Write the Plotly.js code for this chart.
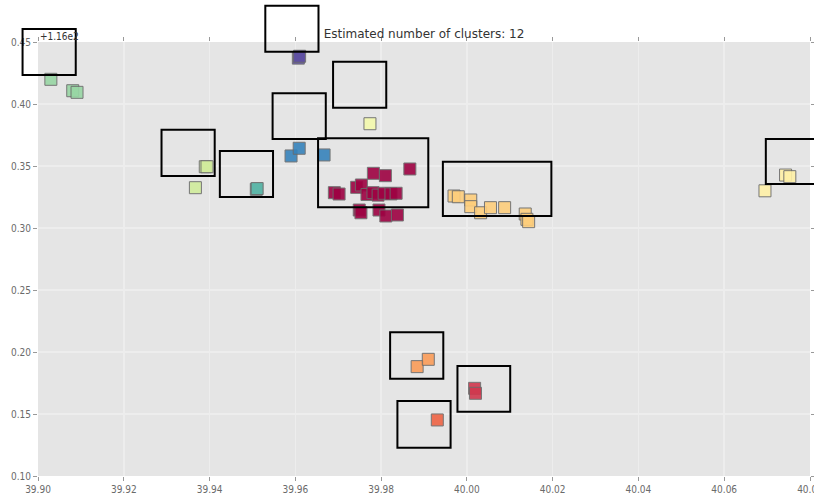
<!DOCTYPE html>
<html>
<head>
<meta charset="utf-8">
<script src="https://cdn.plot.ly/plotly-3.0.1.min.js"></script>
<style>html,body{margin:0;padding:0;background:#fff;}#chart{width:814px;height:495px;}</style>
</head>
<body>
<div id="chart"></div>
<script>
// Cluster colours (Spectral colormap, 12 clusters)
var clusterColors = ['#9e0142','#d0384e','#ee6445','#fb9c59','#fece7c','#fff1a7',
                     '#f4faad','#d1ec9c','#98d6a4','#5db7a9','#3683bb','#5e4fa2'];

// Cluster point coordinates
var clusterX = [
  [39.9867,39.9782,39.9810,39.9743,39.9754,39.9691,39.9702,39.9767,39.9781,39.9793,39.9807,39.9823,39.9835,39.9749,39.9753,39.9795,39.9811,39.9838],
  [40.0018,40.0020],
  [39.9931],
  [39.9884,39.9910],
  [39.9970,39.9980,40.0009,40.0009,40.0032,40.0055,40.0088,40.0136,40.0140,40.0144],
  [40.0695,40.0743,40.0753],
  [39.9774],
  [39.9390,39.9394,39.9367],
  [39.9030,39.9081,39.9091],
  [39.9509,39.9511],
  [39.9590,39.9609,39.9667],
  [39.9607,39.9610]
];
var clusterY = [
  [116.3476,116.3441,116.3422,116.3328,116.3347,116.3285,116.3274,116.3270,116.3285,116.3265,116.3280,116.3275,116.3280,116.3145,116.3123,116.3145,116.3097,116.3105],
  [116.1707,116.1667],
  [116.1452],
  [116.1882,116.1941],
  [116.3258,116.3252,116.3226,116.3172,116.3123,116.3164,116.3164,116.3113,116.3070,116.3051],
  [116.3300,116.3427,116.3414],
  [116.3841],
  [116.3494,116.3494,116.3325],
  [116.4199,116.4107,116.4094],
  [116.3312,116.3318],
  [116.3581,116.3643,116.3589],
  [116.4370,116.4385]
];

// Black boxes (data coordinates)
var boxX0 = [39.8964,39.9530,39.9688,39.9547,39.9653,39.9944,40.0697,39.9288,39.9424,39.9821,39.9978,39.9838];
var boxX1 = [39.9088,39.9654,39.9812,39.9671,39.9910,40.0197,40.0821,39.9412,39.9548,39.9945,40.0101,39.9962];
var boxY0 = [116.4234,116.4422,116.3970,116.3718,116.3167,116.3097,116.3355,116.3419,116.3250,116.1785,116.1519,116.1228];
var boxY1 = [116.4605,116.4793,116.4341,116.4086,116.3723,116.3535,116.3718,116.3793,116.3621,116.2159,116.1887,116.1605];

// Axes
var xRange = [39.90, 40.08];
var yRange = [116.10, 116.45];
var xTickVals = [39.90,39.92,39.94,39.96,39.98,40.00,40.02,40.04,40.06,40.08];
var xTickText = ['39.90','39.92','39.94','39.96','39.98','40.00','40.02','40.04','40.06','40.08'];
var yTickVals = [116.10,116.15,116.20,116.25,116.30,116.35,116.40,116.45];
var yTickText = ['0.10','0.15','0.20','0.25','0.30','0.35','0.40','0.45'];
var titleText = 'Estimated number of clusters: 12';
var offsetText = '+1.16e2';

var traces = clusterX.map(function(xs, i){
  return {
    type: 'scatter', mode: 'markers', x: xs, y: clusterY[i],
    name: 'cluster ' + i, showlegend: false, hoverinfo: 'x+y',
    marker: {symbol: 'square', size: 12, color: clusterColors[i], opacity: 0.9,
             line: {color: '#6a6a6a', width: 1}}
  };
});

function toPaperX(v){ return (v - xRange[0]) / (xRange[1] - xRange[0]); }
function toPaperY(v){ return (v - yRange[0]) / (yRange[1] - yRange[0]); }

var shapes = boxX0.map(function(x0, i){
  return {type: 'rect', xref: 'paper', yref: 'paper', layer: 'above',
          x0: toPaperX(x0), x1: toPaperX(boxX1[i]),
          y0: toPaperY(boxY0[i]), y1: toPaperY(boxY1[i]),
          line: {color: '#000', width: 2}, fillcolor: 'rgba(0,0,0,0)'};
});

var tickFont = {family: 'DejaVu Sans Condensed, DejaVu Sans, sans-serif', size: 10, color: '#6a6a6a'};

var layout = {
  width: 814, height: 495,
  margin: {l: 38, r: 4, t: 42, b: 19, pad: 0},
  paper_bgcolor: '#ffffff', plot_bgcolor: '#e5e5e5',
  title: {text: titleText, x: 0.5, xanchor: 'center', xref: 'paper',
          y: 1, yref: 'paper', yanchor: 'bottom', pad: {b: 4},
          font: {family: 'DejaVu Sans, sans-serif', size: 12, color: '#333'}},
  xaxis: {range: xRange, tickvals: xTickVals, ticktext: xTickText,
          showgrid: true, gridcolor: '#ededed', gridwidth: 1.5, zeroline: false,
          ticks: 'outside', ticklen: 4, tickcolor: '#999', mirror: 'ticks',
          showline: false, tickfont: tickFont, ticklabeloverflow: 'allow'},
  yaxis: {range: yRange, tickvals: yTickVals, ticktext: yTickText,
          showgrid: true, gridcolor: '#ededed', gridwidth: 1.5, zeroline: false,
          ticks: 'outside', ticklen: 4, tickcolor: '#999', mirror: 'ticks',
          showline: false, tickfont: tickFont, ticklabeloverflow: 'allow'},
  shapes: shapes,
  annotations: [{text: offsetText, xref: 'paper', yref: 'paper', x: 0, y: 1,
                 xanchor: 'left', yanchor: 'bottom', showarrow: false, yshift: -2,
                 font: {family: 'DejaVu Sans Condensed, DejaVu Sans, sans-serif', size: 10, color: '#333'}}]
};

Plotly.newPlot('chart', traces, layout, {displayModeBar: false, staticPlot: true});
</script>
</body>
</html>
